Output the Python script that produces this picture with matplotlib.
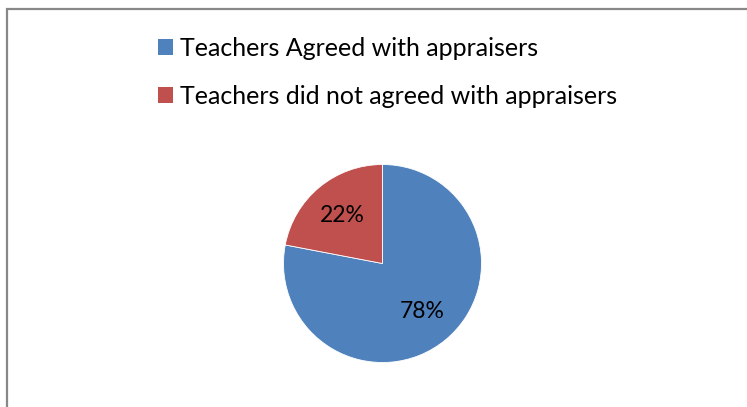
import matplotlib
matplotlib.use("Agg")
import matplotlib.pyplot as plt
from matplotlib.patches import Rectangle, Patch

labels = ["Teachers Agreed with appraisers", "Teachers did not agreed with appraisers"]
values = [78, 22]
colors = ["#4F81BD", "#C0504D"]

plt.rcParams['font.family'] = ['Lato', 'DejaVu Sans']

W, H = 747, 407
fig = plt.figure(figsize=(W / 100, H / 100), dpi=100)

# chart border (extends beyond right/bottom of the image)
fig.patches.append(Rectangle((7 / W, -0.1), 1.2, (H - 8.5) / H + 0.1,
                             transform=fig.transFigure, fill=False,
                             edgecolor="#888888", linewidth=1.6))

ax = fig.add_axes([283.5 / W, (H - 362.5) / H, 198 / W, 198 / H])
wedges, texts, autotexts = ax.pie(values, colors=colors, startangle=90, counterclock=False,
                                  radius=1, autopct=lambda p: f"{p:.0f}%", pctdistance=0.63,
                                  wedgeprops=dict(edgecolor="white", linewidth=0.6),
                                  textprops=dict(fontsize=16.5, color="black"))
ax.set_xlim(-1, 1)
ax.set_ylim(-1, 1)
ax.set_aspect("equal")
ax.axis("off")

handles = [Patch(facecolor=c, edgecolor="none") for c in colors]
fig.legend(handles, labels, loc="upper left", bbox_to_anchor=(158 / W, 1 - 37 / H),
           frameon=False, fontsize=18, handlelength=0.6, handleheight=0.6,
           handletextpad=0.3, labelspacing=0.99, borderaxespad=0, borderpad=0)

fig.savefig("out.png", dpi=100)
